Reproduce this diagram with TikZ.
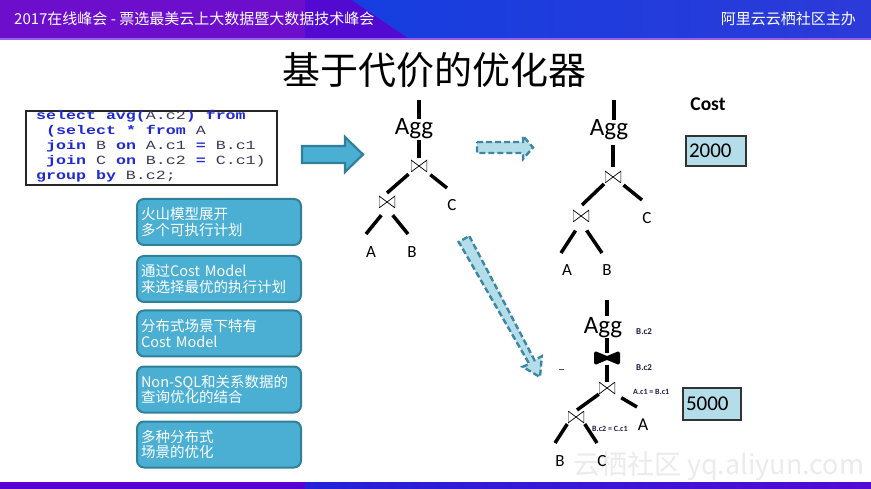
\documentclass[tikz,border=0pt]{standalone}
\usepackage{fontspec}
\setmainfont{Carlito}
\newfontfamily\cjk{Noto Sans CJK SC}
\newfontfamily\sqlfont{Liberation Mono}[FakeStretch=1.33]
\usetikzlibrary{positioning, calc}

\definecolor{hdrpurple}{RGB}{108,14,204}
\definecolor{hdrdark}{RGB}{82,10,210}
\definecolor{hdrblue}{RGB}{22,62,224}
\definecolor{hdrblueR}{RGB}{44,58,216}
\definecolor{hdrline}{RGB}{150,96,232}
\definecolor{barpurple}{RGB}{90,0,210}
\definecolor{barblue}{RGB}{34,34,216}
\definecolor{boxblue}{RGB}{74,175,211}
\definecolor{boxedge}{RGB}{49,128,154}
\definecolor{ghostfill}{RGB}{180,221,234}
\definecolor{ghostedge}{RGB}{62,135,163}
\definecolor{costfill}{RGB}{180,221,234}
\definecolor{sqlkw}{RGB}{32,42,212}
\definecolor{sqlid}{RGB}{58,58,88}
\definecolor{labeltext}{RGB}{30,30,70}

\newcommand{\kwd}[1]{\textcolor{sqlkw}{\bfseries #1}}
\newcommand{\idf}[1]{\textcolor{sqlid}{#1}}

\begin{document}
\begin{tikzpicture}[x=1pt, y=-1pt,
  edge/.style={line width=3.5},
  bowtie/.style={minimum width=16, minimum height=12, inner sep=0,
    path picture={\draw[line width=0.7] (path picture bounding box.south west) -- (path picture bounding box.north west) -- (path picture bounding box.south east) -- (path picture bounding box.north east) -- cycle;}},
  agg/.style={font=\fontsize{25}{25}\selectfont, inner sep=0},
  leaf/.style={font=\fontsize{17}{17}\selectfont, inner sep=0},
  lab/.style={font=\bfseries\fontsize{9}{9}\selectfont, text=labeltext, inner sep=0, anchor=west},
  costbox/.style={draw=black!80, line width=1.3, fill=costfill, minimum height=30, inner sep=3, font=\fontsize{21}{21}\selectfont, align=left},
  infobox/.style={rounded corners=7, fill=boxblue, draw=boxedge, line width=2, minimum width=164, minimum height=46, inner sep=4, text width=156, align=left, text=white, font=\cjk\fontsize{14.5}{15.5}\selectfont},
  sqlline/.style={anchor=base west, inner sep=0, font=\sqlfont\fontsize{12.5}{15}\selectfont},
  bigarrow/.style={fill=boxblue, draw=boxedge, line width=2.2},
  ghostarrow/.style={fill=ghostfill, draw=ghostedge, line width=2.4, dash pattern=on 6pt off 3pt},
]
\useasboundingbox (0,0) rectangle (871,489);

% header and footer bars
\fill[hdrpurple] (0,0) rectangle (871,38);
\fill[hdrdark] (305,0) -- (352,0) -- (408,38) -- (305,38) -- cycle;
\shade[left color=hdrblue, right color=hdrblueR] (352,0) -- (871,0) -- (871,38) -- (408,38) -- cycle;
\fill[hdrline] (0,38) rectangle (871,40);
\node[anchor=west, text=white, font=\cjk\fontsize{15}{15}\selectfont, inner sep=0] (event) at (14,19) {2017在线峰会 - 票选最美云上大数据暨大数据技术峰会};
\node[anchor=east, text=white, font=\cjk\fontsize{15}{15}\selectfont, inner sep=0] (host) at (856,19) {阿里云云栖社区主办};
\fill[barpurple] (0,482) rectangle (871,489);
\shade[left color=barblue, right color=hdrdark] (305,482) rectangle (871,489);

% watermark
\node[anchor=west, text=black!8, font=\cjk\fontsize{27}{27}\selectfont, inner sep=0] (mark) at (573,466) {云栖社区 yq.aliyun.com};

% title
\node[font=\cjk\fontsize{38}{38}\selectfont] (title) at (434,70) {基于代价的优化器};

% query
\node[draw=black!85, line width=2, fill=white, minimum width=251, minimum height=74, inner sep=0] (sqlbox) at (151.5,148) {};
\node[sqlline] (sql1) at (36,120) {\kwd{select avg(}\idf{A.c2}\kwd{) from}};
\node[sqlline] (sql2) at (46,135) {\kwd{(select * from} \idf{A}};
\node[sqlline] (sql3) at (46,150) {\kwd{join} \idf{B} \kwd{on} \idf{A.c1} \kwd{=} \idf{B.c1}};
\node[sqlline] (sql4) at (46,165) {\kwd{join} \idf{C} \kwd{on} \idf{B.c2} \kwd{=} \idf{C.c1)}};
\node[sqlline] (sql5) at (36,180) {\kwd{group by} \idf{B.c2;}};

% arrows
\draw[bigarrow] (302,146) -- (345,146) -- (345,137) -- (363,154.5) -- (345,172) -- (345,163) -- (302,163) -- cycle;
\draw[ghostarrow] (477,142) -- (523,142) -- (523,136) -- (533,147.5) -- (523,159) -- (523,153) -- (477,153) -- cycle;
\draw[ghostarrow] (469.3,236.1) -- (534.5,360.2) -- (541.8,356.2) -- (540,377) -- (522.6,366.8) -- (529.3,364.0) -- (458.7,241.9) -- cycle;
\draw[black!70, line width=0.6] (559,369) -- (564,369);

% notes
\node[infobox] (info1) at (219,222) {火山模型展开\\多个可执行计划};
\node[infobox] (info2) at (219,279) {通过Cost Model\\来选择最优的执行计划};
\node[infobox] (info3) at (219,333.5) {分布式场景下特有\\Cost Model};
\node[infobox] (info4) at (219,389.5) {Non-SQL和关系数据的\\查询优化的结合};
\node[infobox] (info5) at (219,444.5) {多种分布式\\场景的优化};

% plan 1
\coordinate (p1top) at (419,100);
\node[agg] (agg1) at (414,129) {Agg};
\node[bowtie] (j1) at (419,166) {};
\node[bowtie] (j2) at (387,202) {};
\node[leaf] (c1) at (452,205) {C};
\node[leaf] (a1) at (371,252) {A};
\node[leaf] (b1) at (412,252) {B};
\coordinate (j1l) at (387,193);
\coordinate (j1r) at (447,188);
\coordinate (j2l) at (366,234);
\coordinate (j2r) at (408,234);
\draw[edge] (p1top) -- (p1top |- agg1.north);
\draw[edge, shorten <=1, shorten >=2] (agg1.south -| j1) -- (j1.north);
\draw[edge, shorten <=3] (j1.south west) -- (j1l);
\draw[edge, shorten <=4] (j1.south east) -- (j1r);
\draw[edge, shorten <=9] (j2.south) -- (j2l);
\draw[edge, shorten <=9] (j2.south) -- (j2r);

% plan 2
\coordinate (p2top) at (614,100);
\node[agg] (agg2) at (609,130) {Agg};
\node[bowtie] (j3) at (613,177) {};
\node[bowtie] (j4) at (581,216) {};
\node[leaf] (c2) at (647,218) {C};
\node[leaf] (a2) at (567,270) {A};
\node[leaf] (b2) at (607,270) {B};
\coordinate (j3l) at (582,205);
\coordinate (j3r) at (642,200);
\coordinate (j4l) at (561,253);
\coordinate (j4r) at (602,253);
\draw[edge] (p2top) -- (p2top |- agg2.north);
\draw[edge, shorten <=5, shorten >=4] (agg2.south -| j3) -- (j3.north);
\draw[edge, shorten <=1] (j3.south west) -- (j3l);
\draw[edge, shorten <=3] (j3.south east) -- (j3r);
\draw[edge, shorten <=10] (j4.south) -- (j4l);
\draw[edge, shorten <=10] (j4.south) -- (j4r);

% plan 3
\coordinate (p3top) at (607,300);
\node[agg] (agg3) at (603,328) {Agg};
\node[inner sep=0, minimum width=22, minimum height=9] (xch) at (607,358) {};
\filldraw[line width=3.6, line join=round] (xch.south west) -- (xch.north west) -- (xch.south east) -- (xch.north east) -- cycle;
\node[bowtie] (j5) at (607,388) {};
\node[bowtie] (j6) at (576,417) {};
\node[leaf, font=\fontsize{18}{18}\selectfont] (a3) at (643,425) {A};
\node[leaf] (b3) at (560,461) {B};
\node[leaf] (c3) at (602,461) {C};
\coordinate (j5l) at (577,410);
\coordinate (j5r) at (637,407);
\coordinate (j6l) at (555,443);
\coordinate (j6r) at (597,443);
\draw[edge, shorten >=2] (p3top) -- (p3top |- agg3.north);
\draw[edge] (agg3.south -| xch) -- (xch.north);
\draw[edge, shorten <=2] (xch.south) -- (j5.north);
\draw[edge] (j5.south west) -- (j5l);
\draw[edge, shorten <=7] (j5.south east) -- (j5r);
\draw[edge, shorten <=1] (j6.south west) -- (j6l);
\draw[edge, shorten <=1] (j6.south east) -- (j6r);
\node[lab] (grp1) at (636,332) {B.c2};
\node[lab] (grp2) at (636,368) {B.c2};
\node[lab, font=\bfseries\fontsize{8}{8}\selectfont] (cond1) at (633,392) {A.c1 = B.c1};
\node[lab, font=\bfseries\fontsize{8}{8}\selectfont] (cond2) at (592,429) {B.c2 = C.c1};

% costs
\node[font=\bfseries\fontsize{19.5}{20}\selectfont] (costhead) at (708,104) {Cost};
\node[costbox, text width=54] (cost1) at (716,151) {2000};
\node[costbox, text width=52, minimum height=32] (cost2) at (712,404) {5000};
\end{tikzpicture}
\end{document}
